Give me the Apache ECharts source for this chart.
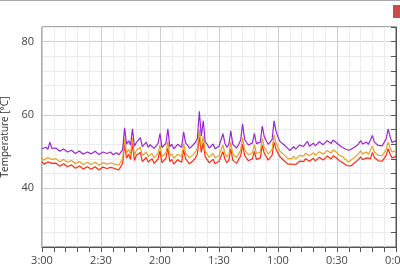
<!DOCTYPE html>
<html><head><meta charset="utf-8">
<script src="https://cdn.jsdelivr.net/npm/echarts@6/dist/echarts.min.js"></script>
<style>html,body{margin:0;padding:0;background:#fff}#c{width:400px;height:273px}</style>
</head><body><div id="c"></div>
<script>
// minutes before now (180 = 3:00 ... 0 = 0:00), 1-minute steps
const minutes = [];
for (let m = 180; m >= 0; m -= 1) minutes.push(m);
const purple = [
50.8,50.3,51.2,50.6,52.6,50.9,50.5,51.0,50.9,50.1,50.2,50.7,50.6,49.9,49.8,50.4,50.1,49.5,49.6,50.2,49.9,49.3,49.4,49.9,50.0,49.4,49.5,50.1,49.8,49.2,49.3,49.9,50.4,49.5,49.6,49.9,49.2,49.5,49.7,49.1,49.4,
50.5,56.5,52.0,53.0,51.8,56.2,51.5,52.5,53.2,53.8,51.4,51.8,52.6,51.2,51.9,52.0,50.9,51.3,52.2,54.9,51.1,51.5,52.3,56.2,51.4,52.0,50.8,51.2,52.0,52.5,51.2,55.4,52.4,51.8,50.9,51.0,51.9,52.5,53.6,61.0,54.2,58.4,52.6,52.0,
51.0,51.5,52.1,50.8,51.2,51.5,52.0,54.9,52.3,51.2,51.9,55.7,52.0,51.5,51.0,52.0,53.1,57.6,53.4,52.5,51.8,51.5,52.4,55.0,52.2,51.8,52.6,57.0,54.1,53.0,52.0,52.2,53.3,58.4,55.6,54.0,52.8,52.3,51.9,51.6,50.9,50.3,50.8,51.4,50.7,51.0,51.8,51.7,
51.4,52.2,52.8,51.5,51.9,52.3,51.6,51.8,52.7,52.5,51.9,52.0,53.0,52.6,52.2,53.2,53.6,52.3,51.8,51.4,51.7,50.8,51.2,50.4,50.6,50.9,51.3,51.6,52.2,53.0,52.1,52.4,52.6,52.0,52.3,54.4,52.6,52.1,51.7,51.4,51.6,51.9,53.5,56.2,54.1,52.5,52.0,53.0];
const orange = [
48.3,47.7,48.0,48.4,48.9,47.9,47.6,48.1,47.9,47.2,47.4,47.9,47.6,47.1,47.0,47.6,47.3,46.7,46.8,47.3,47.0,46.5,46.6,47.1,47.2,46.5,46.6,47.1,46.9,46.3,46.5,47.0,47.4,46.6,46.7,46.9,46.4,46.6,46.9,46.3,46.6,
48.0,53.6,49.6,50.6,49.3,53.8,49.0,50.4,50.8,51.2,48.9,49.3,49.9,48.7,49.2,49.5,48.3,48.8,49.5,51.8,48.6,48.9,49.7,52.8,48.8,49.4,48.2,48.6,49.3,49.8,48.7,52.2,49.7,49.2,48.3,48.4,49.2,49.9,50.9,56.0,51.3,54.2,50.1,49.6,
48.5,49.0,49.5,48.3,48.6,48.9,49.4,51.8,49.6,48.6,49.2,52.6,49.3,48.9,48.4,49.4,50.4,53.8,50.6,49.8,49.1,48.9,49.7,51.9,49.5,49.1,49.9,53.6,51.2,50.3,49.3,49.6,50.6,54.6,52.4,51.2,50.1,49.7,49.2,49.0,48.1,47.6,48.1,48.7,48.0,48.3,49.0,49.1,
48.8,49.6,50.1,48.9,49.3,49.7,49.0,49.2,50.0,49.9,49.3,49.4,50.3,50.0,49.6,50.5,50.9,49.7,49.1,48.8,48.6,48.0,47.6,47.2,47.5,48.1,48.6,48.9,49.5,50.2,49.4,49.7,49.9,49.3,49.6,51.5,49.9,49.5,49.0,48.8,48.9,49.2,50.6,52.6,51.0,49.9,49.4,50.3];
const red = [
47.3,46.6,46.9,47.2,47.6,46.8,46.4,46.9,46.7,46.0,46.1,46.7,46.5,45.9,45.8,46.4,46.2,45.5,45.6,46.1,45.9,45.3,45.4,45.9,46.0,45.2,45.3,45.9,45.7,45.0,45.2,45.8,46.1,45.4,45.5,45.7,45.2,45.4,45.7,45.0,45.4,
46.8,52.0,48.2,49.3,47.9,52.2,47.6,49.0,49.3,49.8,47.3,47.8,48.4,47.2,47.6,48.1,46.8,47.3,48.0,50.2,47.0,47.4,48.2,51.0,47.3,47.9,46.6,47.0,47.8,48.3,47.1,50.5,48.1,47.7,46.7,46.8,47.6,48.3,49.3,54.0,49.8,52.4,48.6,48.1,
47.0,47.5,47.9,46.7,47.0,47.4,47.8,50.0,48.0,47.0,47.6,50.8,47.7,47.3,46.8,47.9,48.8,52.0,49.0,48.2,47.5,47.3,48.1,50.1,47.9,47.6,48.3,51.8,49.6,48.7,47.7,48.1,49.0,52.6,50.7,49.6,48.6,48.2,47.6,47.4,46.6,46.2,46.6,47.1,46.5,46.8,47.4,47.5,
47.3,48.1,48.6,47.4,47.8,48.2,47.5,47.7,48.5,48.3,47.7,47.9,48.8,48.4,48.0,48.9,49.3,48.2,47.6,47.2,47.0,46.5,46.2,45.9,46.1,46.6,47.0,47.3,47.9,48.6,47.8,48.1,48.3,47.8,48.1,49.8,48.4,48.0,47.5,47.2,47.4,47.7,49.0,50.8,49.3,48.3,47.9,48.7];
const yLabels = [40, 60, 80];

const pair = arr => minutes.map((m, i) => [m, arr[i]]);
const font = 'Open Sans, Noto Sans, sans-serif';
const chart = echarts.init(document.getElementById('c'), null, {renderer: 'canvas'});
const mk = (name, data, color) => ({
  name, type: 'line', data: pair(data), showSymbol: false, symbol: 'none',
  lineStyle: {color, width: 1.2}, itemStyle: {color}, animation: false
});
chart.setOption({
  animation: false,
  grid: {left: 42, right: 4, top: 27, bottom: 26, show: true, borderColor: '#555', borderWidth: 1,
         outerBoundsMode: 'none', containLabel: false},
  xAxis: {
    type: 'value', inverse: true, min: 0, max: 180, interval: 6,
    axisLine: {show: true, lineStyle: {color: '#555'}},
    axisTick: {show: true, length: 5, lineStyle: {color: '#555'}},
    axisLabel: {color: '#444', fontSize: 11, fontFamily: font, margin: 8,
      formatter: v => v % 30 === 0 ? Math.floor(v / 60) + ':' + String(v % 60).padStart(2, '0') : ''},
    splitLine: {show: true, lineStyle: {color: ['#cfcfcf', '#ececec', '#ececec', '#ececec', '#ececec'], width: 1}}
  },
  yAxis: {
    type: 'value', min: 24, max: 84, interval: 4,
    name: 'Temperature [°C]', nameLocation: 'middle', nameGap: 22,
    nameTextStyle: {color: '#333', fontSize: 10, fontFamily: font},
    axisLine: {show: true, lineStyle: {color: '#555'}},
    axisTick: {show: true, length: 5, lineStyle: {color: '#555'}},
    axisLabel: {color: '#444', fontSize: 11, fontFamily: font, margin: 8,
      formatter: v => yLabels.indexOf(v) >= 0 ? String(v) : ''},
    splitLine: {show: true, lineStyle: {color: ['#ececec', '#ececec', '#ececec', '#ececec', '#cfcfcf'], width: 1}}
  },
  series: [mk('red', red, '#ff2a10'), mk('orange', orange, '#e3a226'), mk('purple', purple, '#9d25d6')],
  graphic: [
    {type: 'rect', shape: {x: 0, y: 0, width: 400, height: 1}, style: {fill: '#a8a8a8'}},
    {type: 'rect', shape: {x: 393, y: 5, width: 7, height: 13}, style: {fill: '#cc4a4a'}}
  ]
});
</script></body></html>
